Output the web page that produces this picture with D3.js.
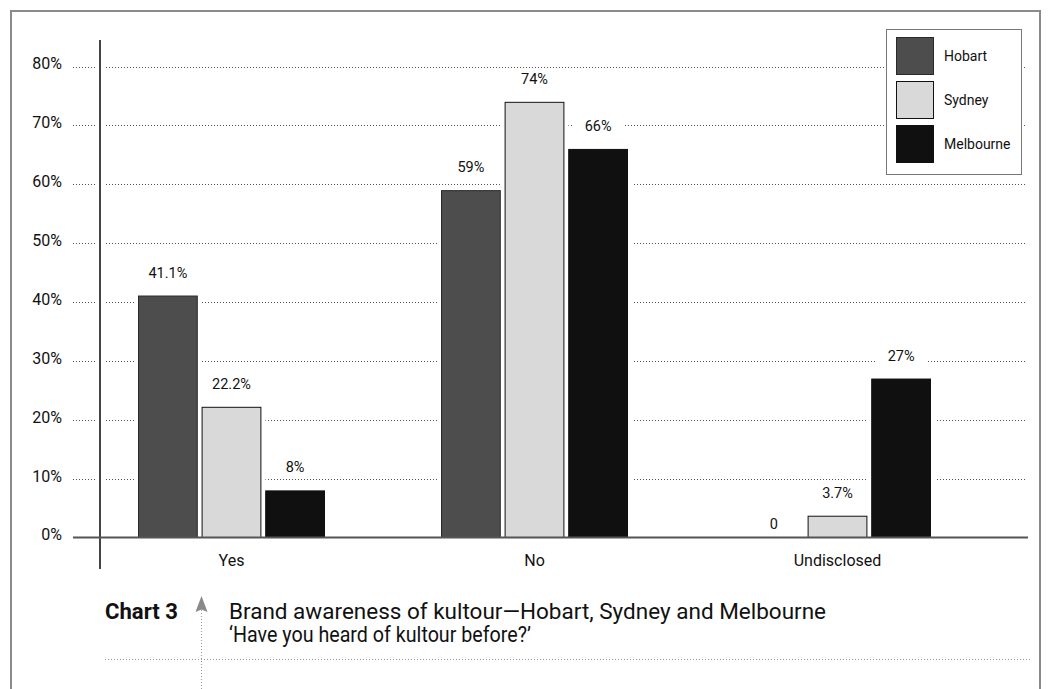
<!DOCTYPE html>
<html>
<head>
<meta charset="utf-8">
<script src="https://cdn.jsdelivr.net/npm/d3@7"></script>
<style>
  html, body { margin: 0; padding: 0; background: #fff; }
  svg { display: block; }
  text { font-family: Roboto, "Liberation Sans", sans-serif; fill: #111; }
</style>
</head>
<body>
<svg id="chart" width="1048" height="689"></svg>
<script>
// Survey answers per city (percent of respondents)
const categories = ["Yes", "No", "Undisclosed"];
const cities = ["Hobart", "Sydney", "Melbourne"];
const hobart = [41.1, 59, 0];
const sydney = [22.2, 74, 3.7];
const melbourne = [8, 66, 27];
const valueLabels = [
  ["41.1%", "59%", "0"],
  ["22.2%", "74%", "3.7%"],
  ["8%", "66%", "27%"]
];
const yTicks = [0, 10, 20, 30, 40, 50, 60, 70, 80];

const seriesValues = [hobart, sydney, melbourne];
const fills = { Hobart: "#4d4d4d", Sydney: "#d9d9d9", Melbourne: "#101010" };
const strokes = { Hobart: "#2a2a2a", Sydney: "#111", Melbourne: "#101010" };
const FONT = "Roboto, \"Liberation Sans\", sans-serif";

const svg = d3.select("#chart");

// Outer frame (open at the bottom)
svg.append("path")
  .attr("d", "M11,689 V11 H1040 V689")
  .attr("fill", "none").attr("stroke", "#8a8a8a").attr("stroke-width", 2);

const y = d3.scaleLinear().domain([0, 80]).range([537.5, 66.5]);
const x0 = d3.scaleBand().domain(categories).range([80, 989]);
const x1 = d3.scaleBand().domain(cities).range([58, 245]).paddingInner(0.06);

// Dotted gridlines
const grid = svg.append("g");
grid.selectAll("line").data(yTicks.filter(d => d > 0)).join("line")
  .attr("x1", 73).attr("x2", 1026)
  .attr("y1", d => Math.round(y(d)) + 0.5).attr("y2", d => Math.round(y(d)) + 0.5)
  .attr("stroke", "#555").attr("stroke-width", 1).attr("stroke-dasharray", "1,2");

// Y tick labels
const yAxis = d3.axisLeft(y).tickValues(yTicks).tickFormat(d => d + "%").tickSize(0).tickPadding(0);
const yg = svg.append("g").attr("transform", "translate(62,0)").call(yAxis);
yg.select(".domain").remove();
yg.selectAll("text").attr("font-size", 16).attr("dy", "0.15em")
  .style("font-family", FONT).attr("fill", "#111");

// Bars, each with a white halo that breaks the gridlines
const groups = svg.append("g").selectAll("g").data(categories).join("g")
  .attr("transform", d => `translate(${x0(d)},0)`);

const barData = (cat, ci) => cities.map((c, si) => ({ city: c, value: seriesValues[si][ci], label: valueLabels[si][ci] }));

groups.each(function (cat, ci) {
  const g = d3.select(this);
  const data = barData(cat, ci);
  g.selectAll("rect.halo").data(data.filter(d => d.value > 0)).join("rect")
    .attr("class", "halo")
    .attr("x", d => x1(d.city) - 4).attr("width", x1.bandwidth() + 8)
    .attr("y", d => y(d.value) - 1).attr("height", d => y(0) - y(d.value) + 1)
    .attr("fill", "#fff");
  g.selectAll("rect.bar").data(data.filter(d => d.value > 0)).join("rect")
    .attr("class", "bar")
    .attr("x", d => x1(d.city) + 0.5).attr("width", x1.bandwidth() - 1)
    .attr("y", d => y(d.value) + 0.5).attr("height", d => y(0) - y(d.value) - 0.5)
    .attr("fill", d => fills[d.city]).attr("stroke", d => strokes[d.city]).attr("stroke-width", 1);
  const lab = g.selectAll("g.lab").data(data).join("g").attr("class", "lab")
    .attr("transform", d => `translate(${x1(d.city) + x1.bandwidth() / 2},${y(d.value) - (d.value > 0 ? 23 : 14)})`);
  lab.append("rect").attr("x", -26).attr("y", -10).attr("width", 52).attr("height", 20).attr("fill", "#fff");
  lab.append("text").attr("text-anchor", "middle").attr("dy", "0.35em").attr("font-size", 14.5).text(d => d.label);
});

// Y axis line with a white gap in the gridlines around it
svg.append("rect").attr("x", 96).attr("y", 40).attr("width", 9).attr("height", 495).attr("fill", "#fff");
svg.append("line").attr("x1", 100).attr("x2", 100).attr("y1", 40).attr("y2", 569)
  .attr("stroke", "#444").attr("stroke-width", 2);

// Baseline and category labels
const xAxis = d3.axisBottom(x0).tickSize(0).tickPadding(0);
const xg = svg.append("g").attr("transform", `translate(0,${y(0)})`).call(xAxis);
xg.select(".domain").remove();
svg.append("line").attr("x1", 73).attr("x2", 1028).attr("y1", y(0)).attr("y2", y(0))
  .attr("stroke", "#555").attr("stroke-width", 2);
xg.selectAll("text").attr("font-size", 16).attr("dy", "1.75em")
  .style("font-family", FONT).attr("fill", "#111");

// Legend
const legend = svg.append("g").attr("transform", "translate(886,29)");
legend.append("rect").attr("x", 0.5).attr("y", 0.5).attr("width", 135).attr("height", 145)
  .attr("fill", "#fff").attr("stroke", "#777").attr("stroke-width", 1);
const li = legend.selectAll("g.item").data(cities).join("g").attr("class", "item")
  .attr("transform", (d, i) => `translate(10,${8 + i * 44})`);
li.append("rect").attr("x", 0.5).attr("y", 0.5).attr("width", 37).attr("height", 37)
  .attr("fill", d => fills[d]).attr("stroke", d => d === "Sydney" ? "#111" : strokes[d]);
li.append("text").attr("x", 48).attr("y", 19).attr("dy", "0.35em").attr("font-size", 14).text(d => d);

// Caption block
const cap = svg.append("g");
cap.append("line").attr("x1", 105).attr("x2", 1030).attr("y1", 659.5).attr("y2", 659.5)
  .attr("stroke", "#999").attr("stroke-dasharray", "1,2");
cap.append("line").attr("x1", 201.5).attr("x2", 201.5).attr("y1", 610).attr("y2", 689)
  .attr("stroke", "#999").attr("stroke-dasharray", "1,2");
cap.append("path").attr("d", "M201.5,596 L207.5,612 L201.5,609.5 L195.5,612 Z").attr("fill", "#888");
cap.append("text").attr("x", 105).attr("y", 619).attr("font-size", 21.5).attr("font-weight", "bold")
  .attr("textLength", 73).attr("lengthAdjust", "spacingAndGlyphs").text("Chart 3");
cap.append("text").attr("x", 229).attr("y", 619).attr("font-size", 21.5)
  .attr("textLength", 597).attr("lengthAdjust", "spacingAndGlyphs")
  .text("Brand awareness of kultour\u2014Hobart, Sydney and Melbourne");
cap.append("text").attr("x", 229).attr("y", 642).attr("font-size", 21.5)
  .attr("textLength", 302).attr("lengthAdjust", "spacingAndGlyphs")
  .text("\u2018Have you heard of kultour before?\u2019");
</script>
</body>
</html>
